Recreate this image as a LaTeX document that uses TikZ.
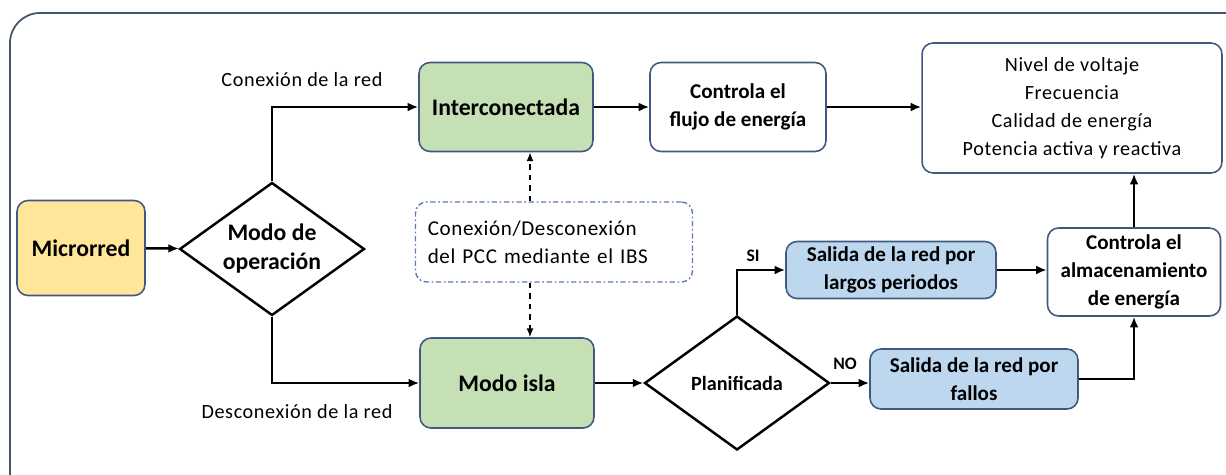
\documentclass[tikz,border=0pt]{standalone}
\usepackage{fontspec}
\setmainfont{Carlito}
\usepackage{tikz}
\usetikzlibrary{shapes.geometric,arrows.meta,positioning,calc}
\definecolor{framecol}{HTML}{44546A}
\definecolor{boxline}{HTML}{41597F}
\definecolor{yellowfill}{HTML}{FFE699}
\definecolor{greenfill}{HTML}{C5E0B4}
\definecolor{bluefill}{HTML}{BDD7EE}
\definecolor{dashline}{HTML}{5B7BB5}
\tikzstyle{block} = [rectangle,rounded corners=0.22cm,draw=boxline,line width=0.9pt,align=center,inner sep=2pt]
\tikzstyle{bigtext} = [font=\bfseries\fontsize{13.5}{16.5}\selectfont]
\tikzstyle{midtext} = [font=\bfseries\fontsize{12}{16}\selectfont]
\tikzstyle{decision} = [diamond,draw,line width=1.4pt,align=center,inner sep=0pt]
\tikzstyle{flow} = [line width=1.4pt,-{Latex[length=6pt,width=5pt]}]
\tikzstyle{dashflow} = [line width=0.9pt,dashed,-{Latex[length=5pt,width=4pt]}]
\tikzstyle{lbl} = [font=\addfontfeatures{LetterSpace=3}\fontsize{11.5}{14}\selectfont]
\tikzstyle{yesno} = [font=\bfseries\fontsize{10}{12}\selectfont]
\tikzset{>=latex}

\begin{document}
\begin{tikzpicture}[x=0.02cm,y=-0.02cm]
    \useasboundingbox (0,0) rectangle (1226,474);
    \clip (0,0) rectangle (1226,474);
    \draw [framecol,line width=1pt,rounded corners=0.6cm] (10,13) rectangle (1270,520);
    % left part
    \node [block,fill=yellowfill,bigtext,minimum width=2.56cm,minimum height=1.9cm] (micro) at (81,248) {Microrred};
    \node [decision,bigtext,aspect=1.39,minimum width=3.7cm,minimum height=2.66cm] (modo) at (272,249) {Modo de\\operación};
    \node [block,fill=greenfill,bigtext,minimum width=3.48cm,minimum height=1.78cm] (inter) at (506,107) {Interconectada};
    \node [block,fill=greenfill,bigtext,minimum width=3.48cm,minimum height=1.8cm] (isla) at (507,383) {Modo isla};
    \node [lbl] (conlbl) at (302,80) {Conexión de la red};
    \node [lbl] (deslbl) at (297,412) {Desconexión de la red};
    \node [rectangle,rounded corners=0.22cm,draw=dashline,line width=0.8pt,dash pattern=on 3pt off 1.5pt on 1pt off 1.5pt,
           font=\addfontfeatures{LetterSpace=3}\fontsize{12}{16}\selectfont,align=left,text width=5.05cm,minimum width=5.54cm,minimum height=1.6cm] (pcc) at (554,242) {Conexión/Desconexión\\del PCC mediante el IBS};
    \coordinate (dx) at (530,0);
    % right part
    \node [block,midtext,minimum width=3.52cm,minimum height=1.78cm] (flujo) at (738,107) {Controla el\\flujo de energía};
    \node [block,lbl,font=\addfontfeatures{LetterSpace=3}\fontsize{11.5}{16}\selectfont,minimum width=6cm,minimum height=2.6cm] (nivel) at (1072,108) {Nivel de voltaje\\Frecuencia\\Calidad de energía\\Potencia activa y reactiva};
    \node [decision,midtext,font=\bfseries\fontsize{11.5}{14}\selectfont,aspect=1.38,minimum width=3.7cm,minimum height=2.68cm] (plan) at (737,383) {Planificada};
    \node [block,fill=bluefill,midtext,minimum width=4.2cm,minimum height=1.14cm] (largos) at (891,270) {Salida de la red por\\largos periodos};
    \node [block,fill=bluefill,midtext,minimum width=4.16cm,minimum height=1.2cm] (fallos) at (974,379) {Salida de la red por\\fallos};
    \node [block,midtext,minimum width=3.46cm,minimum height=1.76cm] (alm) at (1134,272) {Controla el\\almacenamiento\\de energía};
    \node [yesno] (silbl) at (753,256) {SI};
    \node [yesno] (nolbl) at (845,364) {NO};
    % connectors
    \draw [flow] (micro) -- (modo);
    \draw [flow] (modo.north) |- (inter.west);
    \draw [flow] (modo.south) |- (isla.west);
    \draw [flow] (inter) -- (flujo);
    \draw [flow] (flujo.east) -- (flujo.east -| nivel.west);
    \draw [flow] (isla.east) -- (isla.east -| plan.west);
    \draw [flow] (plan.north) |- (largos.west);
    \draw [flow] (plan.east) -- (plan.east -| fallos.west);
    \draw [flow] (largos.east) -- (largos.east -| alm.west);
    \draw [flow] (fallos.east) -| (alm.south);
    \draw [flow] (alm.north) -- (alm.north |- nivel.south);
    \draw [dashflow] (pcc.north -| dx) -- (inter.south -| dx);
    \draw [dashflow] (pcc.south -| dx) -- (isla.north -| dx);
\end{tikzpicture}
\end{document}
